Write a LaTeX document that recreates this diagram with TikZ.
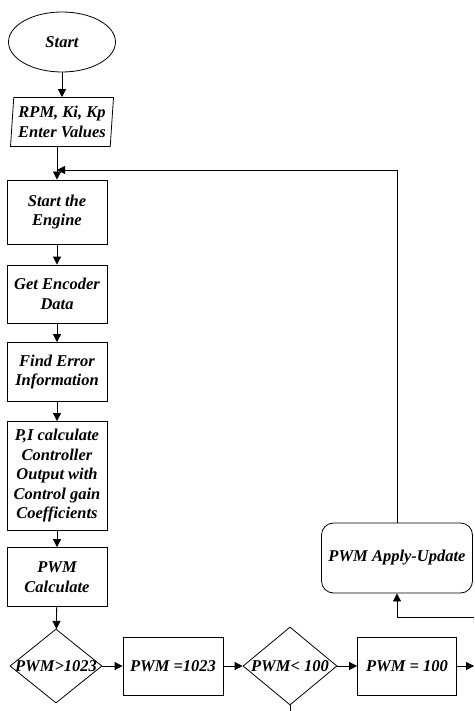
\documentclass[tikz,border=0pt]{standalone}
\usepackage{fontspec}
\setmainfont{Liberation Serif}
\usepackage{tikz}
\usetikzlibrary{arrows.meta, shapes.geometric}

\begin{document}
\begin{tikzpicture}[
    x=1pt, y=-1pt,
    line width=0.8pt,
    every node/.style={font=\fontsize{16.5}{19.5}\selectfont\bfseries\itshape,
                       align=center},
    block/.style={rectangle, draw, minimum width=100pt, inner sep=1pt},
    io/.style={trapezium, draw, trapezium left angle=84, trapezium right angle=96,
               trapezium stretches body, minimum width=103pt, minimum height=49pt,
               inner sep=0pt},
    decision/.style={diamond, draw, inner sep=0pt},
    flow/.style={-{Triangle[length=8pt, width=8pt]}}
]
\useasboundingbox (0,0) rectangle (474,711);

% Start and input
\node[ellipse, draw, minimum width=107pt, minimum height=60pt] (start) at (62, 42) {Start};
\node[io] (input) at (62, 122) {RPM, Ki, Kp\\Enter Values};

% Main column
\node[block, minimum height=64pt] (engine) at (57, 212) {Start the\\Engine};
\node[block, minimum height=58pt] (encoder) at (57, 294) {Get Encoder\\Data};
\node[block, minimum height=59pt] (error) at (57, 372) {Find Error\\Information};
\node[block, minimum height=109pt] (pi) at (57, 476) {P,I calculate\\Controller\\Output with\\Control gain\\Coefficients};
\node[block, minimum height=59pt] (calc) at (57, 577) {PWM\\Calculate};

% Limits
\node[decision, minimum width=92pt, minimum height=74pt] (high) at (56, 666) {\makebox[0pt]{PWM>1023}};
\node[block, minimum height=58pt] (sethigh) at (173, 666) {PWM =1023};
\node[decision, minimum width=94pt, minimum height=78pt] (low) at (290, 666) {\makebox[0pt]{PWM< 100}};
\node[block, minimum width=99pt, minimum height=58pt] (setlow) at (407, 666) {PWM = 100};

% Apply
\node[rectangle, draw, rounded corners=12pt, minimum width=151pt, minimum height=70pt] (apply) at (397, 558) {PWM Apply-Update};

\coordinate (join) at (57, 170);
\coordinate (exit) at (474, 666);
\coordinate (back) at (474, 617);
\coordinate (down) at (290, 711);

% Flow
\draw[flow] (start) -- (input);
\draw[flow] (input.south -| engine) -- (engine);
\draw[flow] (engine) -- (encoder);
\draw[flow] (encoder) -- (error);
\draw[flow] (error) -- (pi);
\draw[flow] (pi) -- (calc);
\draw[flow] (calc) -- (high);
\draw[flow] (high) -- (sethigh);
\draw[flow] (sethigh) -- (low);
\draw[flow] (low) -- (setlow);
\draw[flow] (setlow) -- (exit);
\draw (low) -- (down);

% Feedback
\draw[flow] (back) -| (apply);
\draw[flow] (apply) |- (join);
\end{tikzpicture}
\end{document}
